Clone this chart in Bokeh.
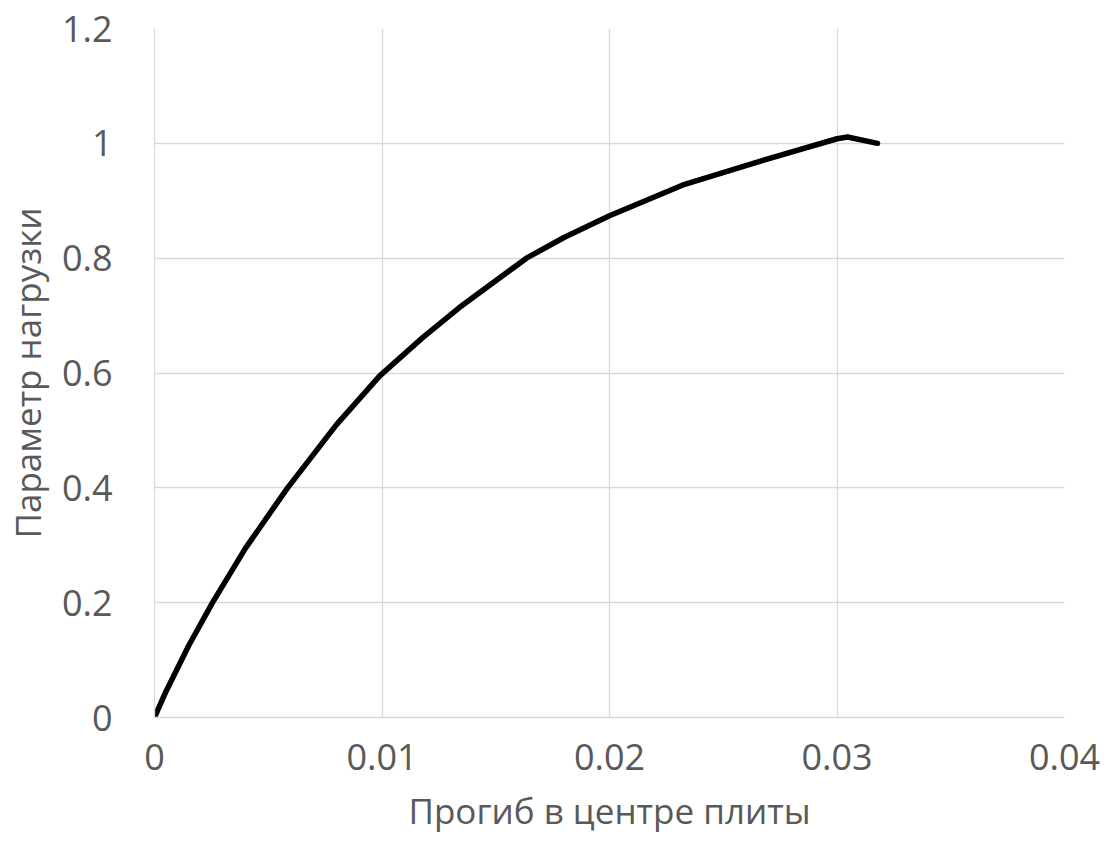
from bokeh.plotting import figure
from bokeh.embed import file_html
from bokeh.resources import INLINE
from bokeh.models import Range1d, FixedTicker

# Data
deflection = [0.0, 0.0005, 0.001, 0.0015, 0.00255, 0.004, 0.00585, 0.008, 0.0099, 0.0118, 0.0134,
              0.01635, 0.018, 0.0200, 0.0232, 0.02646, 0.0300, 0.03046, 0.03178]
load_param = [0.0, 0.045, 0.085, 0.125, 0.2, 0.295, 0.4, 0.51, 0.595, 0.662, 0.714,
              0.8, 0.836, 0.874, 0.927, 0.967, 1.008, 1.011, 1.0]
x_ticks = [0, 0.01, 0.02, 0.03, 0.04]
y_ticks = [0, 0.2, 0.4, 0.6, 0.8, 1.0, 1.2]
x_tick_labels = {0: "0", 0.01: "0.01", 0.02: "0.02", 0.03: "0.03", 0.04: "0.04"}
y_tick_labels = {0: "0", 0.2: "0.2", 0.4: "0.4", 0.6: "0.6", 0.8: "0.8", 1.0: "1", 1.2: "1.2"}

grid_col = "#d9d9d9"
text_col = "#595959"
font = "Open Sans"

p = figure(frame_width=910, frame_height=689, output_backend="svg", toolbar_location=None,
           x_range=Range1d(0, 0.04), y_range=Range1d(0, 1.2),
           min_border_left=152, min_border_top=28, min_border_right=40, min_border_bottom=132)
p.outline_line_color = None
p.background_fill_color = "white"
p.border_fill_color = "white"

p.xaxis.ticker = FixedTicker(ticks=x_ticks)
p.yaxis.ticker = FixedTicker(ticks=y_ticks)
p.xaxis.major_label_overrides = x_tick_labels
p.yaxis.major_label_overrides = y_tick_labels

for ax in (p.xaxis, p.yaxis):
    ax.axis_line_color = grid_col
    ax.axis_line_width = 1.3
    ax.major_tick_line_color = None
    ax.minor_tick_line_color = None
    ax.major_tick_out = 0
    ax.major_tick_in = 0
    ax.minor_tick_out = 0
    ax.minor_tick_in = 0
    ax.major_label_text_color = text_col
    ax.axis_label_text_color = text_col
    ax.axis_label_text_font_style = "normal"
    ax.major_label_text_font = font
    ax.axis_label_text_font = font

p.xaxis.major_label_text_font_size = "36px"
p.xaxis.major_label_standoff = 26
p.xaxis.axis_label = "Прогиб в центре плиты"
p.xaxis.axis_label_text_font_size = "35px"
p.xaxis.axis_label_standoff = 14

p.yaxis.major_label_text_font_size = "36px"
p.yaxis.major_label_standoff = 42
p.yaxis.axis_label = "Параметр нагрузки"
p.yaxis.axis_label_text_font_size = "35px"
p.yaxis.axis_label_standoff = 8

p.xgrid.grid_line_color = grid_col
p.ygrid.grid_line_color = grid_col
p.xgrid.grid_line_width = 1.3
p.ygrid.grid_line_width = 1.3

p.line(deflection, load_param, line_color="black", line_width=5.5, line_join="round", line_cap="round")

open("out.html", "w").write(file_html(p, INLINE))
